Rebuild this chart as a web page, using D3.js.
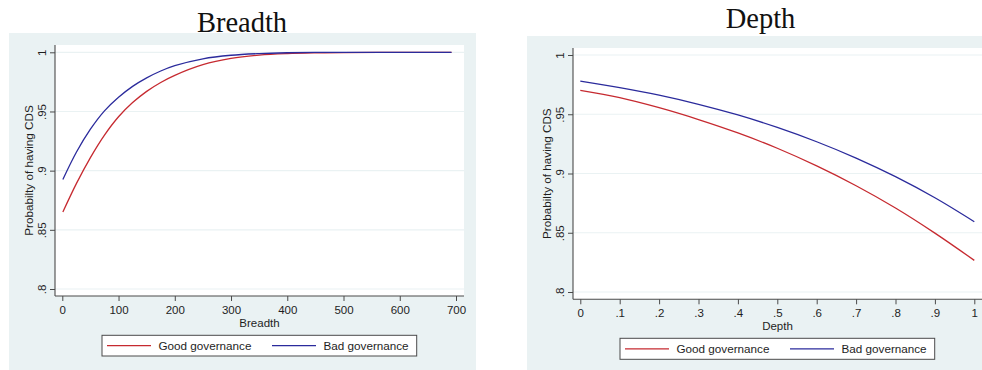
<!DOCTYPE html>
<html>
<head>
<meta charset="utf-8">
<script src="https://cdn.jsdelivr.net/npm/d3@7"></script>
<style>
  html, body { margin: 0; padding: 0; background: #ffffff; }
  svg { display: block; }
  text { font-family: "Liberation Sans", Arial, sans-serif; fill: #1e1e1e; }
  .title { font-family: "Liberation Serif", "Times New Roman", serif; font-size: 28.5px; fill: #111; }
</style>
</head>
<body>
<svg id="chart" width="982" height="370"></svg>
<script>
// Predicted probability of having CDS, by governance group
const seriesNames = ["Good governance", "Bad governance"];
const seriesColors = ["#c62a30", "#2b2b9c"];

// Breadth panel
const breadthX    = [1, 25, 50, 75, 100, 125, 150, 175, 200, 250, 300, 350, 400, 450, 500, 600, 692];
const breadthGood = [0.865, 0.889, 0.911, 0.930, 0.9455, 0.9575, 0.967, 0.9745, 0.9805, 0.9895, 0.9948, 0.9976, 0.9989, 0.9995, 0.9998, 1.0, 1.0];
const breadthBad  = [0.8925, 0.9155, 0.935, 0.9505, 0.962, 0.9712, 0.9784, 0.9842, 0.9887, 0.9945, 0.9975, 0.9989, 0.9996, 0.9999, 1.0, 1.0, 1.0];
const breadthTicks = [0, 100, 200, 300, 400, 500, 600, 700];
const breadthTickLabels = ["0", "100", "200", "300", "400", "500", "600", "700"];

// Depth panel
const depthX    = [0, 0.1, 0.2, 0.3, 0.4, 0.5, 0.6, 0.7, 0.8, 0.9, 1.0];
const depthGood = [0.9702, 0.964, 0.9555, 0.9455, 0.9342, 0.9213, 0.9064, 0.8897, 0.8709, 0.8497, 0.8267];
const depthBad  = [0.978, 0.9725, 0.9661, 0.9584, 0.9494, 0.9389, 0.9268, 0.913, 0.8973, 0.8795, 0.8593];
const depthTicks = [0, 0.1, 0.2, 0.3, 0.4, 0.5, 0.6, 0.7, 0.8, 0.9, 1.0];
const depthTickLabels = ["0", ".1", ".2", ".3", ".4", ".5", ".6", ".7", ".8", ".9", "1"];

// Shared y axis
const yTicks = [0.8, 0.85, 0.9, 0.95, 1.0];
const yTickLabels = [".8", ".85", ".9", ".95", "1"];
const yTitle = "Probabilty of having CDS";

const svg = d3.select("#chart");
const fontSize = "11.5px";

const panels = [
  {
    title: "Breadth", titleX: 242, titleY: 31.5, xTitle: "Breadth",
    xs: breadthX, ys: [breadthGood, breadthBad],
    xDomain: [0, 700], xTicks: breadthTicks, xTickLabels: breadthTickLabels,
    bg: [9, 33, 476, 370], plot: [55, 45, 464, 296],
    xRange: [62.3, 456.0], yRange: [289, 52.3],
    legend: [102, 335.3, 416.7, 356]
  },
  {
    title: "Depth", titleX: 760.5, titleY: 28.3, xTitle: "Depth",
    xs: depthX, ys: [depthGood, depthBad],
    xDomain: [0, 1], xTicks: depthTicks, xTickLabels: depthTickLabels,
    bg: [527, 36, 982, 370], plot: [573, 48, 982, 299.3],
    xRange: [580.3, 974.3], yRange: [292, 55],
    legend: [620, 338.3, 934.7, 359.3]
  }
];

panels.forEach(p => {
  const g = svg.append("g");
  const [bx0, by0, bx1, by1] = p.bg;
  const [px0, py0, px1, py1] = p.plot;

  // outer graph region and white plot region
  g.append("rect").attr("x", bx0).attr("y", by0).attr("width", bx1 - bx0).attr("height", by1 - by0)
    .attr("fill", "#eaf2f3");
  g.append("rect").attr("x", px0).attr("y", py0).attr("width", px1 - px0).attr("height", py1 - py0)
    .attr("fill", "#ffffff");

  const x = d3.scaleLinear().domain(p.xDomain).range(p.xRange);
  const y = d3.scaleLinear().domain([0.8, 1.0]).range(p.yRange);

  // horizontal grid lines
  g.append("g").selectAll("line").data(yTicks).join("line")
    .attr("x1", px0).attr("x2", px1)
    .attr("y1", d => y(d)).attr("y2", d => y(d))
    .attr("stroke", "#eaf2f3").attr("stroke-width", 1.2);

  // y axis
  const yAxis = d3.axisLeft(y).tickValues(yTicks)
    .tickFormat((d, i) => yTickLabels[i]).tickSize(5).tickSizeOuter(0);
  const ya = g.append("g").attr("transform", `translate(${px0},0)`).call(yAxis);
  ya.select(".domain").remove();
  ya.selectAll(".tick line").attr("stroke", "#4a4a4a");
  ya.selectAll(".tick text")
    .attr("x", null).attr("dy", null)
    .attr("transform", "translate(-9,0) rotate(-90)")
    .attr("text-anchor", "middle")
    .style("font-size", fontSize).style("font-family", null).attr("fill", "#1e1e1e");

  // x axis
  const xAxis = d3.axisBottom(x).tickValues(p.xTicks)
    .tickFormat((d, i) => p.xTickLabels[i]).tickSize(5).tickSizeOuter(0);
  const xa = g.append("g").attr("transform", `translate(0,${py1})`).call(xAxis);
  xa.select(".domain").remove();
  xa.selectAll(".tick line").attr("stroke", "#4a4a4a");
  xa.selectAll(".tick text")
    .attr("y", 18.2).attr("dy", null)
    .style("font-size", fontSize).style("font-family", null).attr("fill", "#1e1e1e");

  // axis lines spanning the plot region
  g.append("line").attr("x1", px0).attr("x2", px0).attr("y1", py0).attr("y2", py1)
    .attr("stroke", "#4a4a4a").attr("stroke-width", 1.1);
  g.append("line").attr("x1", px0).attr("x2", px1).attr("y1", py1).attr("y2", py1)
    .attr("stroke", "#4a4a4a").attr("stroke-width", 1.1);

  // curves
  const line = d3.line().x(d => x(d[0])).y(d => y(d[1])).curve(d3.curveCatmullRom.alpha(0.5));
  p.ys.forEach((vals, k) => {
    g.append("path")
      .datum(p.xs.map((xv, i) => [xv, vals[i]]))
      .attr("d", line)
      .attr("fill", "none")
      .attr("stroke", seriesColors[k])
      .attr("stroke-width", 1.3);
  });

  // titles
  g.append("text").attr("class", "title").attr("x", p.titleX).attr("y", p.titleY)
    .attr("text-anchor", "middle").text(p.title);
  g.append("text").attr("x", (px0 + px1) / 2).attr("y", py1 + 31)
    .attr("text-anchor", "middle").style("font-size", fontSize).text(p.xTitle);
  const ytx = px0 - 22, yty = (py0 + py1) / 2;
  g.append("text").attr("transform", `translate(${ytx},${yty}) rotate(-90)`)
    .attr("text-anchor", "middle").style("font-size", "11.7px").text(yTitle);

  // legend
  const [lx0, ly0, lx1, ly1] = p.legend;
  const lg = g.append("g");
  lg.append("rect").attr("x", lx0).attr("y", ly0).attr("width", lx1 - lx0).attr("height", ly1 - ly0)
    .attr("fill", "#ffffff").attr("stroke", "#4a4a4a").attr("stroke-width", 1);
  const cy = (ly0 + ly1) / 2;
  const itemOffsets = [5, 170];
  seriesNames.forEach((name, k) => {
    const sx = lx0 + itemOffsets[k];
    lg.append("line").attr("x1", sx).attr("x2", sx + 44).attr("y1", cy).attr("y2", cy)
      .attr("stroke", seriesColors[k]).attr("stroke-width", 1.3);
    lg.append("text").attr("x", sx + 51.5).attr("y", cy + 4.2)
      .style("font-size", "11.7px").text(name);
  });
});
</script>
</body>
</html>
